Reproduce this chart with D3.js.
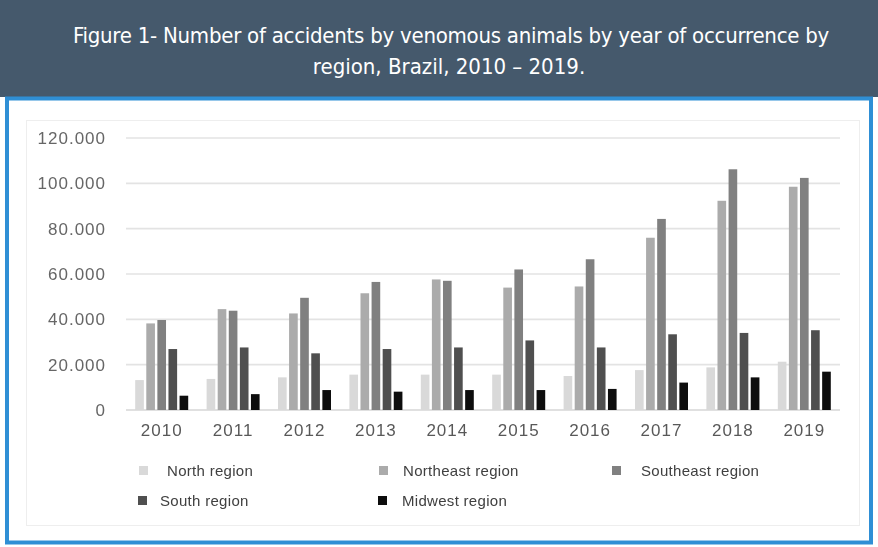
<!DOCTYPE html>
<html>
<head>
<meta charset="utf-8">
<script src="https://cdn.jsdelivr.net/npm/d3@7"></script>
<style>
  html, body { margin: 0; padding: 0; background: #fff; }
  svg { display: block; }
</style>
</head>
<body>
<svg id="chart" width="878" height="547"></svg>
<script>
// Accidents by venomous animals, Brazil, by region and year
const years = ["2010", "2011", "2012", "2013", "2014", "2015", "2016", "2017", "2018", "2019"];
const regions = ["North region", "Northeast region", "Southeast region", "South region", "Midwest region"];
const north     = [13200, 13700, 14400, 15600, 15600, 15600, 15000, 17600, 18800, 21300];
const northeast = [38200, 44500, 42600, 51500, 57600, 54000, 54500, 76000, 92300, 98500];
const southeast = [39700, 43800, 49500, 56500, 57000, 62000, 66500, 84300, 106200, 102400];
const south     = [26900, 27600, 25000, 26900, 27600, 30700, 27600, 33400, 34000, 35200];
const midwest   = [6300, 7000, 8800, 8100, 8800, 8800, 9300, 12100, 14400, 16900];
const yTicks    = [0, 20000, 40000, 60000, 80000, 100000, 120000];
const yTickLabels = ["0", "20.000", "40.000", "60.000", "80.000", "100.000", "120.000"];
const colors    = ["#d9d9d9", "#ababab", "#808080", "#505050", "#111111"];

const seriesValues = [north, northeast, southeast, south, midwest];

const svg = d3.select("#chart");

// Soft edge used for the chart body
const defs = svg.append("defs");
defs.append("filter").attr("id", "soft")
  .attr("x", "-5%").attr("y", "-5%").attr("width", "110%").attr("height", "110%")
  .append("feGaussianBlur").attr("stdDeviation", 0.45);

// Header banner
svg.append("rect").attr("x", 0).attr("y", 0).attr("width", 878).attr("height", 97).attr("fill", "#45596c");
const title = svg.append("text")
  .attr("fill", "#ffffff")
  .attr("font-family", "'DejaVu Sans Condensed', 'DejaVu Sans', sans-serif")
  .attr("font-size", 22)
  .attr("text-anchor", "middle");
title.append("tspan").attr("x", 451).attr("y", 43).attr("letter-spacing", -0.25)
  .text("Figure 1- Number of accidents by venomous animals by year of occurrence by");
title.append("tspan").attr("x", 449).attr("y", 74)
  .text("region, Brazil, 2010 – 2019.");

// Blue frame
svg.append("rect").attr("x", 7).attr("y", 98.5).attr("width", 864).attr("height", 444)
  .attr("fill", "none").attr("stroke", "#2f8fd5").attr("stroke-width", 4);

const body = svg.append("g").attr("filter", "url(#soft)");

// Inner light frame of the chart
body.append("rect").attr("x", 26.5).attr("y", 120.5).attr("width", 833).attr("height", 405)
  .attr("fill", "none").attr("stroke", "#eeeeee").attr("stroke-width", 1);

// Scales
const x0 = d3.scaleBand().domain(years).range([126, 840]).padding(0);
const groupW = 53;
const x1 = d3.scaleBand().domain(regions)
  .range([(x0.bandwidth() - groupW) / 2, (x0.bandwidth() + groupW) / 2])
  .paddingInner(0.22);
const y = d3.scaleLinear().domain([0, 120000]).range([410, 138]);

// Gridlines
body.append("g").selectAll("line").data(yTicks).join("line")
  .attr("x1", 126).attr("x2", 840)
  .attr("y1", d => y(d)).attr("y2", d => y(d))
  .attr("stroke", d => d === 0 ? "#d6d6d6" : "#e3e3e3")
  .attr("stroke-width", 1.6);

const labelFont = "'Liberation Sans', Arial, sans-serif";

// Y axis labels
const yAxis = d3.axisLeft(y).tickValues(yTicks)
  .tickFormat((d, i) => yTickLabels[i]).tickSize(0).tickPadding(0);
const gy = body.append("g").attr("transform", "translate(106,0)").call(yAxis);
gy.select(".domain").remove();
gy.selectAll("text")
  .attr("font-family", labelFont)
  .attr("font-size", 17).attr("letter-spacing", 1).attr("fill", "#666666");

// X axis labels
const xAxis = d3.axisBottom(x0).tickSize(0).tickPadding(0);
const gx = body.append("g").attr("transform", "translate(0,424)").call(xAxis);
gx.select(".domain").remove();
gx.selectAll("text")
  .attr("font-family", labelFont)
  .attr("font-size", 17).attr("letter-spacing", 1).attr("fill", "#595959");

// Bars
const rows = years.map((yr, i) => ({ year: yr, values: regions.map((r, j) => ({ region: r, value: seriesValues[j][i], color: colors[j] })) }));
body.append("g").selectAll("g").data(rows).join("g")
  .attr("transform", d => `translate(${x0(d.year)},0)`)
  .selectAll("rect").data(d => d.values).join("rect")
  .attr("x", d => x1(d.region))
  .attr("width", x1.bandwidth())
  .attr("y", d => y(d.value))
  .attr("height", d => y(0) - y(d.value))
  .attr("fill", d => d.color);

// Legend
const legendItems = [
  { name: regions[0], color: colors[0], mx: 139, tx: 167, ty: 471 },
  { name: regions[1], color: colors[1], mx: 379, tx: 403, ty: 471 },
  { name: regions[2], color: colors[2], mx: 612, tx: 641, ty: 471 },
  { name: regions[3], color: colors[3], mx: 138, tx: 160, ty: 501 },
  { name: regions[4], color: colors[4], mx: 378, tx: 402, ty: 501 }
];
const lg = body.append("g").selectAll("g").data(legendItems).join("g");
lg.append("rect")
  .attr("x", d => d.mx).attr("y", d => d.ty - 5)
  .attr("width", 9).attr("height", 9)
  .attr("fill", d => d.color);
lg.append("text")
  .attr("x", d => d.tx).attr("y", d => d.ty + 5)
  .attr("font-family", labelFont)
  .attr("font-size", 15).attr("letter-spacing", 0.3).attr("fill", "#404040")
  .text(d => d.name);
</script>
</body>
</html>
